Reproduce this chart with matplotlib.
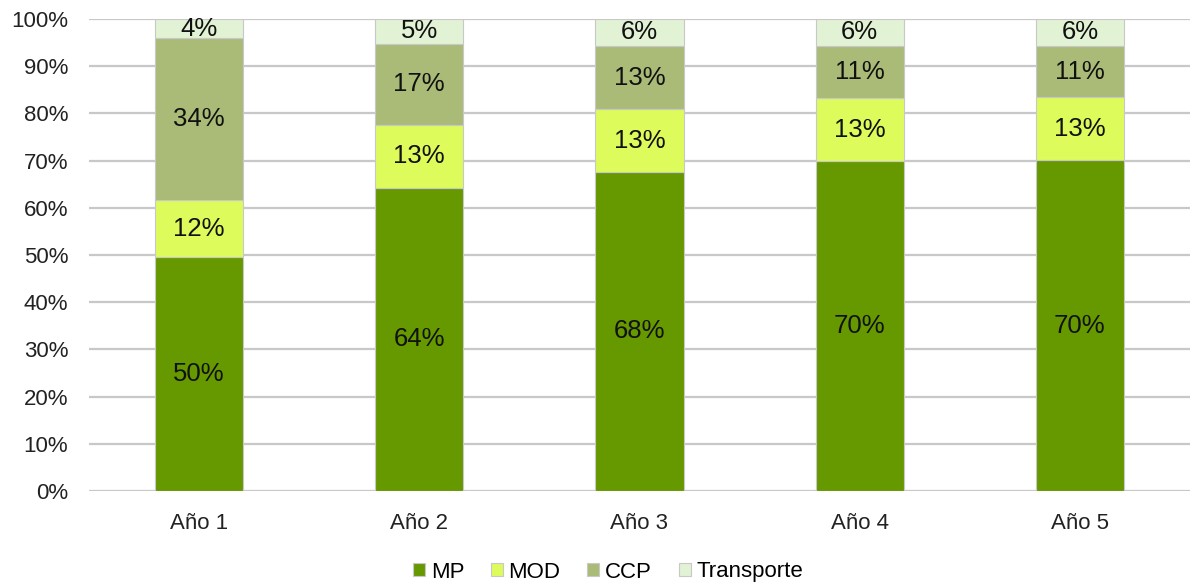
import matplotlib
matplotlib.use("Agg")
import matplotlib.pyplot as plt
import numpy as np

categories = ["Año 1", "Año 2", "Año 3", "Año 4", "Año 5"]
series_names = ["MP", "MOD", "CCP", "Transporte"]
mp = [49.5, 64.3, 67.6, 69.9, 70.1]
mod = [12.1, 13.3, 13.3, 13.3, 13.3]
ccp = [34.3, 17.2, 13.4, 11.1, 10.9]
transporte = [4.1, 5.2, 5.7, 5.7, 5.7]
colors = ["#669900", "#DDFB5A", "#AABB77", "#E2F2D4"]

plt.rcParams['font.family'] = ['Liberation Sans', 'DejaVu Sans']

fig = plt.figure(figsize=(11.92, 5.85), dpi=100)
ax = fig.add_axes([89/1192, 1-491/585, (1190-89)/1192, (491-19)/585])

x = np.arange(len(categories))
bottom = np.zeros(len(categories))
for name, vals, c in zip(series_names, [mp, mod, ccp, transporte], colors):
    vals = np.array(vals)
    ax.bar(x, vals, 0.4, bottom=bottom, color=c, label=name,
           edgecolor="#c8c8c8", linewidth=0.8, zorder=3)
    for xi, b, v in zip(x, bottom, vals):
        ax.text(xi, b + v/2, f"{v:.0f}%", ha="center", va="center",
                fontsize=18.5, color="#111111", zorder=4)
    bottom += vals

ax.set_xlim(-0.5, 4.5)
ax.set_ylim(0, 100)
ax.set_yticks(np.arange(0, 101, 10))
ax.set_yticklabels([f"{v}%" for v in range(0, 101, 10)], fontsize=16, color="#222222")
ax.set_xticks(x)
ax.set_xticklabels(categories, fontsize=16, color="#222222")
ax.tick_params(axis="y", length=0, pad=15)
ax.tick_params(axis="x", length=0, pad=16)
ax.yaxis.grid(True, color="#c8c8c8", linewidth=1.6, zorder=0)
for s in ax.spines.values():
    s.set_visible(False)
ax.set_axisbelow(True)

leg = fig.legend(loc="center", bbox_to_anchor=(608/1192, 1-572/585), ncol=4, frameon=False,
                 fontsize=16, handlelength=0.55, handleheight=0.55, handletextpad=0.25,
                 columnspacing=1.2, borderpad=0)

fig.savefig("out.png", dpi=100)
